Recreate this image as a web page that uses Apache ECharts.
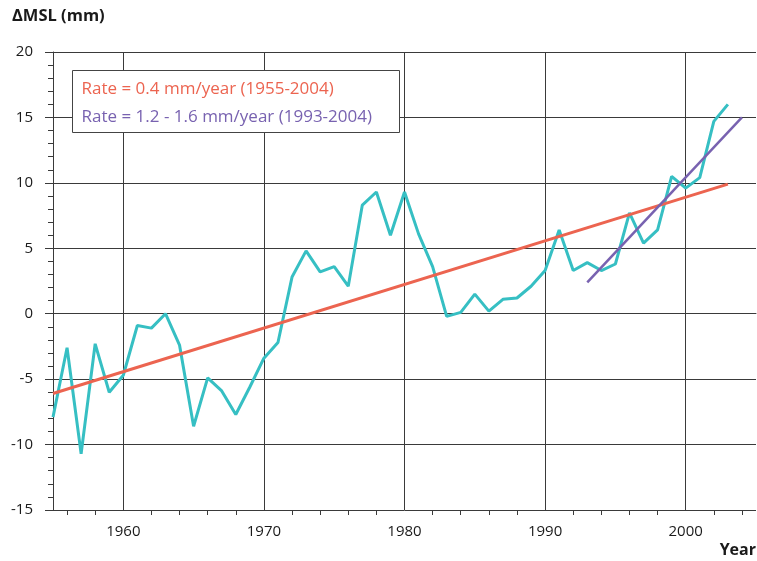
<!DOCTYPE html>
<html>
<head>
<meta charset="utf-8">
<script src="https://cdn.jsdelivr.net/npm/echarts@6/dist/echarts.min.js"></script>
<style>
  html, body { margin: 0; padding: 0; background: #fff; }
  #chart { width: 757px; height: 561px; }
</style>
</head>
<body>
<div id="chart"></div>
<script>
// Annual mean sea level anomaly (mm), 1955-2003
const years = [1955,1956,1957,1958,1959,1960,1961,1962,1963,1964,1965,1966,1967,1968,1969,
  1970,1971,1972,1973,1974,1975,1976,1977,1978,1979,1980,1981,1982,1983,1984,1985,1986,1987,
  1988,1989,1990,1991,1992,1993,1994,1995,1996,1997,1998,1999,2000,2001,2002,2003];
const msl = [-7.9,-2.6,-10.7,-2.3,-6.0,-4.7,-0.9,-1.1,0.0,-2.4,-8.6,-4.9,-5.9,-7.7,-5.6,
  -3.4,-2.2,2.8,4.8,3.2,3.6,2.1,8.3,9.3,6.0,9.3,6.1,3.6,-0.2,0.1,1.5,0.2,1.1,
  1.2,2.1,3.3,6.4,3.3,3.9,3.3,3.8,7.7,5.4,6.4,10.5,9.6,10.4,14.7,16.0];

// Linear trends
const trendLongYears = [1955, 2003];
const trendLongValues = [-6.1, 9.9];
const trendShortYears = [1993, 2004];
const trendShortValues = [2.4, 15.0];

// Axis ticks
const decadeTicks = [1960, 1970, 1980, 1990, 2000];
const minorYearTicks = [1956,1958,1962,1964,1966,1968,1972,1974,1976,1978,1982,1984,1986,1988,
  1992,1994,1996,1998,2002,2004];

const legendLines = ['Rate = 0.4 mm/year (1955-2004)', 'Rate = 1.2 - 1.6 mm/year (1993-2004)'];

const pairs = (xs, ys) => xs.map((x, i) => [x, ys[i]]);

const FONT = '"Open Sans", "Noto Sans", sans-serif';
const INK = '#1a1a1a';
const GRID = '#3a3a3a';
const CYAN = '#36bfc3';
const ORANGE = '#ec6450';
const PURPLE = '#7862b0';

const chart = echarts.init(document.getElementById('chart'), null, { renderer: 'canvas' });

chart.setOption({
  animation: false,
  backgroundColor: '#fff',
  grid: { left: 53, right: 1, top: 52, bottom: 51, containLabel: false },
  xAxis: [
    {
      type: 'value', min: 1955, max: 2005,
      axisLine: { show: true, lineStyle: { color: GRID, width: 1 } },
      axisTick: { show: true, customValues: decadeTicks, length: 0, lineStyle: { color: GRID } },
      axisLabel: {
        customValues: decadeTicks, margin: 14, color: INK, fontSize: 15, fontFamily: FONT,
        formatter: v => String(v)
      },
      splitLine: { show: true, lineStyle: { color: GRID, width: 1 } }
    },
    {
      type: 'value', min: 1955, max: 2005, position: 'bottom',
      axisLine: { show: false },
      axisTick: { show: true, customValues: minorYearTicks, length: 5, lineStyle: { color: GRID } },
      axisLabel: { show: false },
      splitLine: { show: false }
    }
  ],
  yAxis: {
    type: 'value', min: -15, max: 20, interval: 5,
    axisLine: { show: true, lineStyle: { color: GRID, width: 1 } },
    axisTick: { show: true, length: 8, lineStyle: { color: GRID } },
    minorTick: { show: true, splitNumber: 5, length: 5, lineStyle: { color: GRID } },
    axisLabel: { margin: 20, color: INK, fontSize: 15, fontFamily: FONT },
    splitLine: { show: true, lineStyle: { color: GRID, width: 1 } }
  },
  series: [
    {
      type: 'line', xAxisIndex: 0, data: pairs(years, msl),
      symbol: 'none', lineStyle: { color: CYAN, width: 3 }, z: 2
    },
    {
      type: 'line', xAxisIndex: 0, data: pairs(trendLongYears, trendLongValues),
      symbol: 'none', lineStyle: { color: ORANGE, width: 3 }, z: 3
    },
    {
      type: 'line', xAxisIndex: 0, data: pairs(trendShortYears, trendShortValues),
      symbol: 'none', lineStyle: { color: PURPLE, width: 2.5 }, z: 4
    }
  ],
  graphic: [
    {
      type: 'text', left: 12, top: 8,
      style: { text: 'ΔMSL (mm)', fill: INK, font: 'bold 16.5px ' + FONT }
    },
    {
      type: 'text', right: 1, top: 542,
      style: { text: 'Year', fill: INK, font: 'bold 16px ' + FONT }
    },
    {
      type: 'group', left: 72, top: 70, z: 100,
      children: [
        {
          type: 'rect', z: 100, shape: { x: 0, y: 0, width: 327, height: 62 },
          style: { fill: '#fff', stroke: '#444', lineWidth: 1 }
        },
        {
          type: 'text', z: 101, x: 9, y: 19,
          style: { text: legendLines[0], fill: ORANGE, font: '17px ' + FONT, verticalAlign: 'middle' }
        },
        {
          type: 'text', z: 101, x: 9, y: 47,
          style: { text: legendLines[1], fill: PURPLE, font: '17px ' + FONT, verticalAlign: 'middle' }
        }
      ]
    }
  ]
});
</script>
</body>
</html>
